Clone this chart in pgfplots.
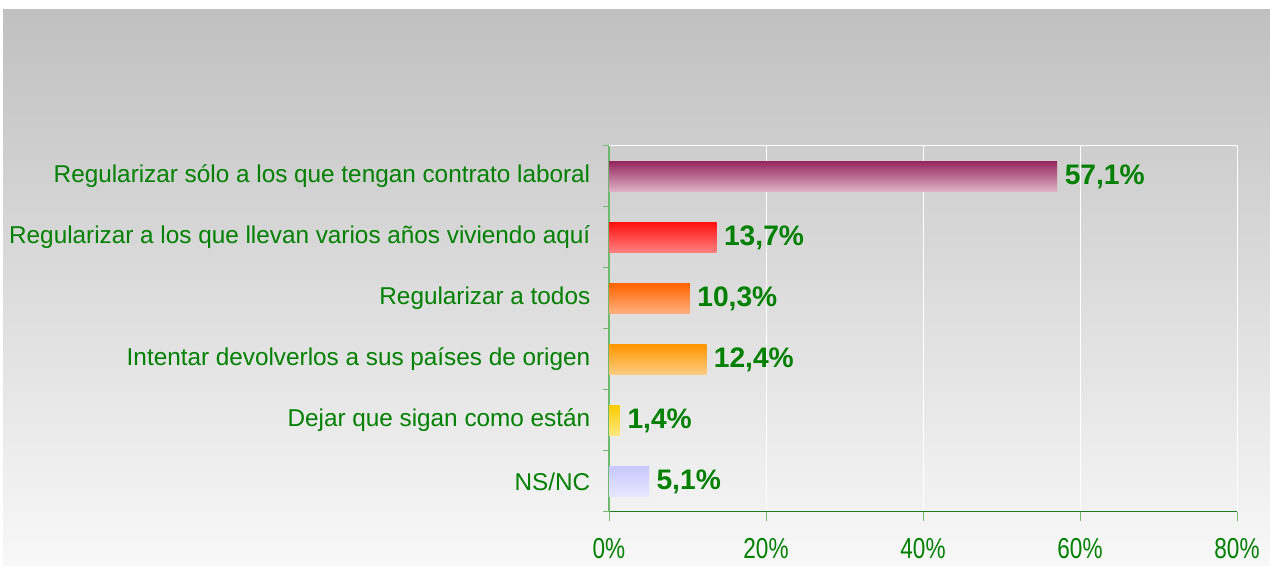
\documentclass[border=0pt]{standalone}
\usepackage{fontspec}
\setmainfont{Liberation Sans}
\newfontfamily\narrowfont[FakeStretch=0.78]{Liberation Sans}
\usepackage{pgfplots}
\pgfplotsset{compat=1.18}
\definecolor{txtgreen}{RGB}{0,128,0}
\definecolor{axgreen}{RGB}{30,120,30}
\definecolor{tickgreen}{RGB}{110,185,110}
\definecolor{bgtop}{RGB}{192,192,192}
\definecolor{bgbot}{RGB}{248,248,248}
\definecolor{c1t}{RGB}{150,40,95}\definecolor{c1b}{RGB}{222,178,198}
\definecolor{c2t}{RGB}{255,16,16}\definecolor{c2b}{RGB}{255,130,130}
\definecolor{c3t}{RGB}{255,100,0}\definecolor{c3b}{RGB}{255,176,128}
\definecolor{c4t}{RGB}{255,150,0}\definecolor{c4b}{RGB}{255,205,130}
\definecolor{c5t}{RGB}{255,205,0}\definecolor{c5b}{RGB}{255,232,130}
\definecolor{c6t}{RGB}{200,200,255}\definecolor{c6b}{RGB}{230,230,255}
\begin{document}
\begin{tikzpicture}[x=1bp,y=1bp]
\path[use as bounding box] (0,0) rectangle (1270,566);
\shade[top color=bgtop, bottom color=bgbot] (3,0) rectangle (1270,556);
\begin{axis}[
  at={(609bp,54bp)}, anchor=south west,
  scale only axis, width=628bp, height=366bp,
  xmin=0, xmax=80, ymin=-0.5, ymax=5.5,
  axis lines*=left,
  axis background/.style={draw=white, line width=1bp},
  x axis line style={axgreen, line width=1bp},
  y axis line style={tickgreen, line width=1.2bp},
  xmajorgrids, grid style={white, line width=0.8bp},
  tick align=outside,
  xtick={0,20,40,60,80},
  xticklabels={0\%,20\%,40\%,60\%,80\%},
  xtick style={tickgreen, line width=1bp, /pgfplots/major tick length=9bp},
  xticklabel style={font=\narrowfont\fontsize{29}{31}\selectfont, text=txtgreen, inner sep=0pt, yshift=-22bp},
  ytick={0,1,2,3,4,5},
  yticklabels={NS/NC, Dejar que sigan como están, Intentar devolverlos a sus países de origen, Regularizar a todos, Regularizar a los que llevan varios años viviendo aquí, Regularizar sólo a los que tengan contrato laboral},
  minor ytick={-0.5,0.5,1.5,2.5,3.5,4.5,5.5},
  ytick style={tickgreen, line width=1bp, /pgfplots/major tick length=0bp, /pgfplots/minor tick length=6bp},
  yticklabel style={font=\fontsize{24.4}{27}\selectfont, text=txtgreen, xshift=-11bp},
  xbar, bar width=30bp, bar shift=0pt,
  nodes near coords, point meta=explicit symbolic,
  nodes near coords style={font=\bfseries\fontsize{28.3}{30}\selectfont, text=txtgreen, anchor=west, xshift=4bp},
]
\addplot[draw=none, top color=c1t, bottom color=c1b] coordinates {(57.1,5) [57,1\%]};
\addplot[draw=none, top color=c2t, bottom color=c2b] coordinates {(13.7,4) [13,7\%]};
\addplot[draw=none, top color=c3t, bottom color=c3b] coordinates {(10.3,3) [10,3\%]};
\addplot[draw=none, top color=c4t, bottom color=c4b] coordinates {(12.4,2) [12,4\%]};
\addplot[draw=none, top color=c5t, bottom color=c5b] coordinates {(1.4,1) [1,4\%]};
\addplot[draw=none, top color=c6t, bottom color=c6b] coordinates {(5.1,0) [5,1\%]};
\end{axis}
\end{tikzpicture}
\end{document}
